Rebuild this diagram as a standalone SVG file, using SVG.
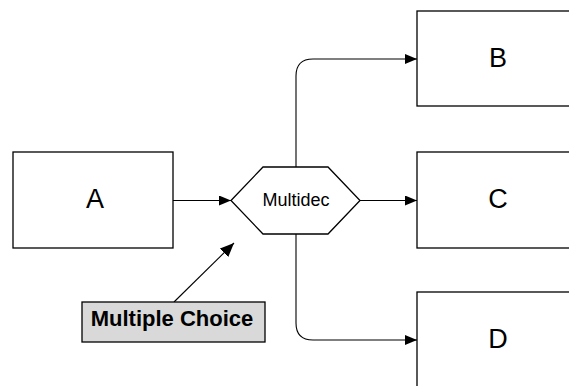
<svg xmlns="http://www.w3.org/2000/svg" width="569" height="386" viewBox="0 0 569 386">
<style>
.box{fill:#fff;stroke:#000;stroke-width:1.3}
.lbl{font-family:"Liberation Sans",Arial,sans-serif;font-size:27px;fill:#000;text-anchor:middle}
.line{fill:none;stroke:#000;stroke-width:1.1}
</style>
<defs>
<marker id="ah" markerWidth="12" markerHeight="10" refX="12" refY="5" orient="auto" markerUnits="userSpaceOnUse">
<path d="M0,0 L12,5 L0,10 Z" fill="#000"/>
</marker>
<marker id="ah2" markerWidth="14" markerHeight="12" refX="14" refY="6" orient="auto" markerUnits="userSpaceOnUse">
<path d="M0,0 L14,6 L0,12 Z" fill="#000"/>
</marker>
</defs>
<g id="connectors">
<path class="line" d="M173,200.5 L231,200.5" marker-end="url(#ah)"/>
<path class="line" d="M360,200.5 L417,200.5" marker-end="url(#ah)"/>
<path class="line" d="M296,167 L296,76 Q296,59 313,59 L417,59" marker-end="url(#ah)"/>
<path class="line" d="M296,234 L296,323 Q296,340 313,340 L417,340" marker-end="url(#ah)"/>
<path class="line" d="M174,302 L234,243" marker-end="url(#ah2)"/>
</g>
<g id="A"><rect class="box" x="13" y="152" width="160" height="96"/><text class="lbl" x="95" y="208.3">A</text></g>
<g id="B"><rect class="box" x="417" y="11" width="160" height="95"/><text class="lbl" x="498" y="66.7">B</text></g>
<g id="C"><rect class="box" x="417" y="152" width="160" height="96"/><text class="lbl" x="498" y="208.3">C</text></g>
<g id="D"><rect class="box" x="417" y="292" width="160" height="96"/><text class="lbl" x="498" y="348.3">D</text></g>
<g id="Multidec"><polygon class="box" stroke-width="1" points="231,200.5 263,167 328,167 360,200.5 328,234 263,234"/><text class="lbl" style="font-size:18px" x="296" y="205.7">Multidec</text></g>
<g id="MultipleChoice"><rect x="82" y="302" width="183" height="40" fill="#d9d9d9" stroke="#000" stroke-width="1.3"/><text class="lbl" style="font-size:22px;font-weight:bold" x="172" y="325.7">Multiple Choice</text></g>
</svg>
